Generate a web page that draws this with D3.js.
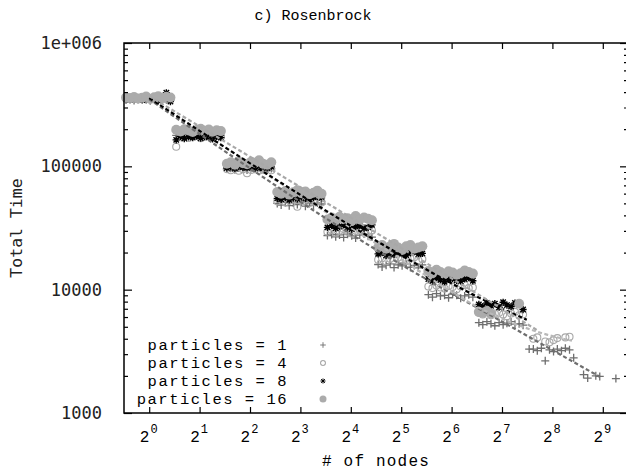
<!DOCTYPE html>
<html>
<head>
<meta charset="utf-8">
<script src="https://cdn.jsdelivr.net/npm/d3@7"></script>
<style>
  html, body { margin: 0; padding: 0; background: #fff; }
  svg { display: block; }
</style>
</head>
<body>
<svg id="chart" width="626" height="474"></svg>
<script>
// ---------------- DATA ----------------
const chartTitle = "c) Rosenbrock";
const xLabel = "# of nodes";
const yLabel = "Total Time";
const xTickExponents = [0, 1, 2, 3, 4, 5, 6, 7, 8, 9];
const yTickValues = [1000, 10000, 100000, 1000000];
const yTickLabels = ["1000", "10000", "100000", "1e+006"];
const seriesNames = ["particles = 1", "particles = 4", "particles = 8", "particles = 16"];

// node counts of the sampled runs, grouped per doubling step
const nodeGrid = [
  [0.727, 0.768, 0.812, 0.858, 0.908, 0.959, 1.014, 1.072, 1.133, 1.197, 1.266, 1.339],
  [1.45, 1.54, 1.62, 1.72, 1.82, 1.92, 2.03, 2.14, 2.27, 2.39, 2.53, 2.68],
  [2.91, 3.07, 3.25, 3.43, 3.63, 3.84, 4.06, 4.29, 4.53, 4.79, 5.06, 5.36],
  [5.82, 6.14, 6.50, 6.86, 7.26, 7.67, 8.11, 8.57, 9.06, 9.58, 10.1, 10.7],
  [11.6, 12.3, 13.0, 13.7, 14.5, 15.3, 16.2, 17.1, 18.1, 19.2, 20.3, 21.4],
  [23.3, 24.6, 26.0, 27.5, 29.0, 30.7, 32.4, 34.3, 36.3, 38.3, 40.5, 42.8],
  [46.5, 49.2, 52.0, 54.9, 58.1, 61.4, 64.9, 68.6, 72.5, 76.6, 81.0, 85.7],
  [93.1, 98.3, 104, 110, 116, 123, 130, 137, 145, 153, 162, 171],
  [186, 197, 208, 220, 232, 246, 260, 274, 290, 306, 324, 343],
  [372, 393, 416, 439, 465, 491, 519, 549, 580, 613, 648, 686]
];

const timeP1 = [
  [345000, 350000, 342000, 348000, 352000, 346000, 340000, 349000, 351000, 344000, 347000, 343000],
  [178000, 181000, 176000, 180000, 177000, 182000, 175000, 179000, 183000, 176000, 180000, 178000],
  [95000, 96500, 94000, 97000, 95500, 93500, 96000, 94500, 97500, 95000, 93000, 96000],
  [50000, 48500, 51000, 48000, 50500, 49000, 51500, 47500, 50000, 48500, 50500, 49500],
  [27500, 28000, 26800, 27800, 26500, 28200, 27300, 26200, 27700, 28300, 27100, 26700],
  [16000, 15300, 15800, 16200, 15100, 15900, 15600, 16100, 15200, 15700, 15000, 15900],
  [9100, 8700, 9300, 8900, 9000, 8600, 9200, 9000, 8500, 8900, 9100, 8700],
  [5400, 5200, 5500, 5300, 5100, 5400, 5200, 5350, 5500, 5250, 5300, 5150],
  [3300, 3300, 3200, 3350, 2650, 3250, 3150, 3300, 3200, 3350, 3250, 2800],
  [null, 2050, 1920, null, 2000, 1980, null, null, null, 1900, null, null]
];
const timeP4 = [
  [355000, 352000, 358000, 350000, 356000, 353000, 357000, 351000, 354000, 359000, 352000, 356000],
  [144000, 172000, 178000, 170000, 176000, 181000, 169000, 174000, 179000, 171000, 177000, 173000],
  [95000, 93000, 96000, 92000, 94500, 88000, 93500, 95500, 92500, 94000, 96500, 93000],
  [52000, 53500, 51000, 52500, 54000, 47000, 53000, 52000, 50500, 53500, 52500, 51000],
  [29500, 30500, 29000, 30000, 31000, 29500, 28500, 30000, 30500, 29000, 29800, 30200],
  [17500, 18000, 17000, 17800, 17300, 18200, 17600, 17100, 17900, 18300, 17400, 17700],
  [10600, 10300, 10800, 10400, 10200, 10700, 10500, 10100, 10600, 10900, 10300, 10400],
  [6500, 6300, 6600, 6200, 6400, 6500, 6300, 6100, 6400, 6600, 6200, 6300],
  [null, 4000, 4100, null, 3800, 3750, 3900, 4050, null, 4100, 4150, null],
  [null, null, null, null, null, null, null, null, null, null, null, null]
];
const timeP8 = [
  [352000, 348000, 355000, 350000, 345000, 353000, 349000, 356000, 340000, 352000, 395000, 335000],
  [164000, 175000, 168000, 173000, 171000, 176000, 169000, 174000, 172000, 167000, 175000, 171000],
  [97000, 99000, 96000, 100000, 98000, 97500, 99500, 96500, 98500, 100500, 97000, 99000],
  [55000, 54000, 56000, 53500, 55500, 54500, 56500, 55000, 54000, 56000, 57000, 55500],
  [32000, 33000, 31500, 32500, 33500, 32000, 31000, 32500, 33000, 31500, 32000, 33500],
  [19500, 20000, 19000, 19800, 19300, 20200, 19600, 19100, 19900, 20300, 19400, 19700],
  [12200, 11800, 12400, 12000, 11600, 12100, 12300, 11900, 11700, 12200, 12500, 11800],
  [7600, 7300, 7800, 7400, 7700, 7200, 7900, 7500, 7300, 7800, 7600, 6900],
  [null, null, null, null, null, null, null, null, null, null, null, null],
  [null, null, null, null, null, null, null, null, null, null, null, null]
];
const timeP16 = [
  [362000, 358000, 365000, 355000, 360000, 368000, 352000, 363000, 370000, 357000, 366000, 361000],
  [198000, 192000, 200000, 195000, 190000, 197000, 202000, 194000, 199000, 191000, 196000, 193000],
  [105000, 108000, 103000, 110000, 106000, 104000, 109000, 107000, 112000, 105000, 103000, 108000],
  [62000, 60000, 63000, 59000, 61500, 64000, 60500, 62500, 59500, 61000, 63500, 60000],
  [37000, 38500, 36500, 39000, 37500, 38000, 36000, 39500, 37000, 38500, 37500, 36500],
  [22000, 23000, 21500, 22500, 23500, 22000, 21000, 22500, 23000, 21500, 22000, 22500],
  [14200, 13600, 14500, 13900, 13400, 14100, 13800, 13200, 13600, 14300, 13900, 13500],
  [6600, 6500, 6700, 6400, null, null, null, null, null, null, 7700, null],
  [null, null, null, null, null, null, null, null, null, null, null, null],
  [null, null, null, null, null, null, null, null, null, null, null, null]
];

// fitted trend curves, read at a few nodes along each curve
const fitP1 = [[1, 350000], [23.9, 20200], [157, 4710], [493, 1960]];
const fitP4 = [[1, 360000], [23.9, 22700], [125, 5900], [240, 4300], [335, 3850]];
const fitP8 = [[1, 358000], [5.05, 86700], [23.9, 23900], [108.5, 7800], [180, 5700]];
const fitP16 = [[1, 371000], [23.9, 27700], [207, 4710]];

// ---------------- DRAWING ----------------
const svg = d3.select("#chart");
const L = 124, R = 628, T = 43, B = 413;

const x = d3.scaleLog().base(2).domain([Math.pow(2, -0.5), Math.pow(2, 9.5)]).range([L, R]);
const y = d3.scaleLog().base(10).domain([1000, 1000000]).range([B, T]);

const serif = "'Liberation Mono', 'Courier New', monospace";
const sansMono = "'DejaVu Sans Mono', monospace";

const plusPath = "M-4,0H4M0,-4V4";
const starPath = "M-3.6,0H3.6M0,-3.6V3.6M-2.7,-2.7L2.7,2.7M-2.7,2.7L2.7,-2.7";

const series = [
  { name: seriesNames[0], times: timeP1, fit: fitP1, marker: "plus", color: "#6e6e6e", lineColor: "#6e6e6e" },
  { name: seriesNames[1], times: timeP4, fit: fitP4, marker: "circle", color: "#a8a8a8", lineColor: "#b8b8b8" },
  { name: seriesNames[2], times: timeP8, fit: fitP8, marker: "star", color: "#000000", lineColor: "#000000" },
  { name: seriesNames[3], times: timeP16, fit: fitP16, marker: "dot", color: "#ababab", lineColor: "#a8a8a8" }
];

function drawMarker(g, type, color, k) {
  if (type === "plus") {
    g.append("path").attr("d", plusPath).attr("stroke", color).attr("stroke-width", 1.3).attr("fill", "none")
      .attr("transform", `scale(${k})`);
  } else if (type === "star") {
    g.append("path").attr("d", starPath).attr("stroke", color).attr("stroke-width", 1.4).attr("fill", "none")
      .attr("transform", `scale(${k})`);
  } else if (type === "circle") {
    g.append("circle").attr("r", 3.5 * k).attr("stroke", color).attr("stroke-width", 1.1).attr("fill", "none");
  } else {
    g.append("circle").attr("r", 5 * k).attr("fill", color);
  }
}

// points
const pointsLayer = svg.append("g");
series.forEach(s => {
  const pts = [];
  s.times.forEach((row, k) => row.forEach((t, i) => { if (t !== null) pts.push([nodeGrid[k][i], t]); }));
  const g = pointsLayer.append("g");
  pts.forEach(p => {
    const m = g.append("g").attr("transform", `translate(${x(p[0])},${y(p[1])})`);
    drawMarker(m, s.marker, s.color, 1);
  });
});

// fit curves
const line = d3.line().x(d => x(d[0])).y(d => y(d[1])).curve(d3.curveMonotoneX);
series.forEach(s => {
  svg.append("path").datum(s.fit).attr("d", line)
    .attr("fill", "none").attr("stroke", s.lineColor)
    .attr("stroke-width", 2.2).attr("stroke-dasharray", "4,2.5");
});

// axes
const xTicks = xTickExponents.map(e => Math.pow(2, e));
const yMinor = [];
[1000, 10000, 100000].forEach(d => { for (let m = 2; m <= 9; m++) yMinor.push(d * m); });

function styleAxis(g) {
  g.select(".domain").remove();
  g.selectAll(".tick line").attr("stroke", "#000").attr("stroke-width", 1.2);
}

const xb = svg.append("g").attr("transform", `translate(0,${B})`)
  .call(d3.axisBottom(x).tickValues(xTicks).tickSize(-6).tickFormat(""));
styleAxis(xb);
xb.selectAll(".tick").each(function(d, i) {
  const t = d3.select(this).append("text")
    .attr("y", 29).attr("x", -1).attr("text-anchor", "middle")
    .attr("fill", "#000").attr("font-family", serif).attr("font-size", 16);
  t.append("tspan").text("2");
  t.append("tspan").attr("dy", -9).attr("dx", 1).attr("font-size", 12).text(xTickExponents[i]);
});
const xt = svg.append("g").attr("transform", `translate(0,${T})`)
  .call(d3.axisTop(x).tickValues(xTicks).tickSize(-6).tickFormat(""));
styleAxis(xt);

const yl = svg.append("g").attr("transform", `translate(${L},0)`)
  .call(d3.axisLeft(y).tickValues(yTickValues).tickSize(-8).tickPadding(22)
    .tickFormat((d, i) => yTickLabels[i]));
styleAxis(yl);
yl.selectAll(".tick text").attr("font-family", sansMono).attr("font-size", 17).attr("fill", "#222");
const ylm = svg.append("g").attr("transform", `translate(${L},0)`)
  .call(d3.axisLeft(y).tickValues(yMinor).tickSize(-4).tickFormat(""));
styleAxis(ylm);
const yr = svg.append("g").attr("transform", `translate(${R},0)`)
  .call(d3.axisRight(y).tickValues(yTickValues).tickSize(-8).tickFormat(""));
styleAxis(yr);
const yrm = svg.append("g").attr("transform", `translate(${R},0)`)
  .call(d3.axisRight(y).tickValues(yMinor).tickSize(-4).tickFormat(""));
styleAxis(yrm);

// frame
svg.append("rect").attr("x", L).attr("y", T).attr("width", R - L).attr("height", B - T)
  .attr("fill", "none").attr("stroke", "#000").attr("stroke-width", 1.5);

// title & labels
svg.append("text").attr("x", 313).attr("y", 20).attr("text-anchor", "middle")
  .attr("font-family", serif).attr("font-size", 15).attr("fill", "#000").text(chartTitle);
svg.append("text").attr("x", 376).attr("y", 466).attr("text-anchor", "middle")
  .attr("font-family", serif).attr("font-size", 16).attr("letter-spacing", 1.2)
  .attr("fill", "#000").text(xLabel);
svg.append("text").attr("transform", "translate(22,228) rotate(-90)").attr("text-anchor", "middle")
  .attr("font-family", sansMono).attr("font-size", 16.5).attr("fill", "#222").text(yLabel);

// legend
const legend = svg.append("g");
series.forEach((s, i) => {
  const cy = 345 + i * 18;
  legend.append("text").attr("x", 288).attr("y", cy + 5).attr("text-anchor", "end")
    .attr("font-family", serif).attr("font-size", 15.5).attr("letter-spacing", 1.5)
    .attr("fill", "#000").text(s.name);
  const m = legend.append("g").attr("transform", `translate(323,${cy})`);
  drawMarker(m, s.marker, s.color, 0.7);
});
</script>
</body>
</html>
